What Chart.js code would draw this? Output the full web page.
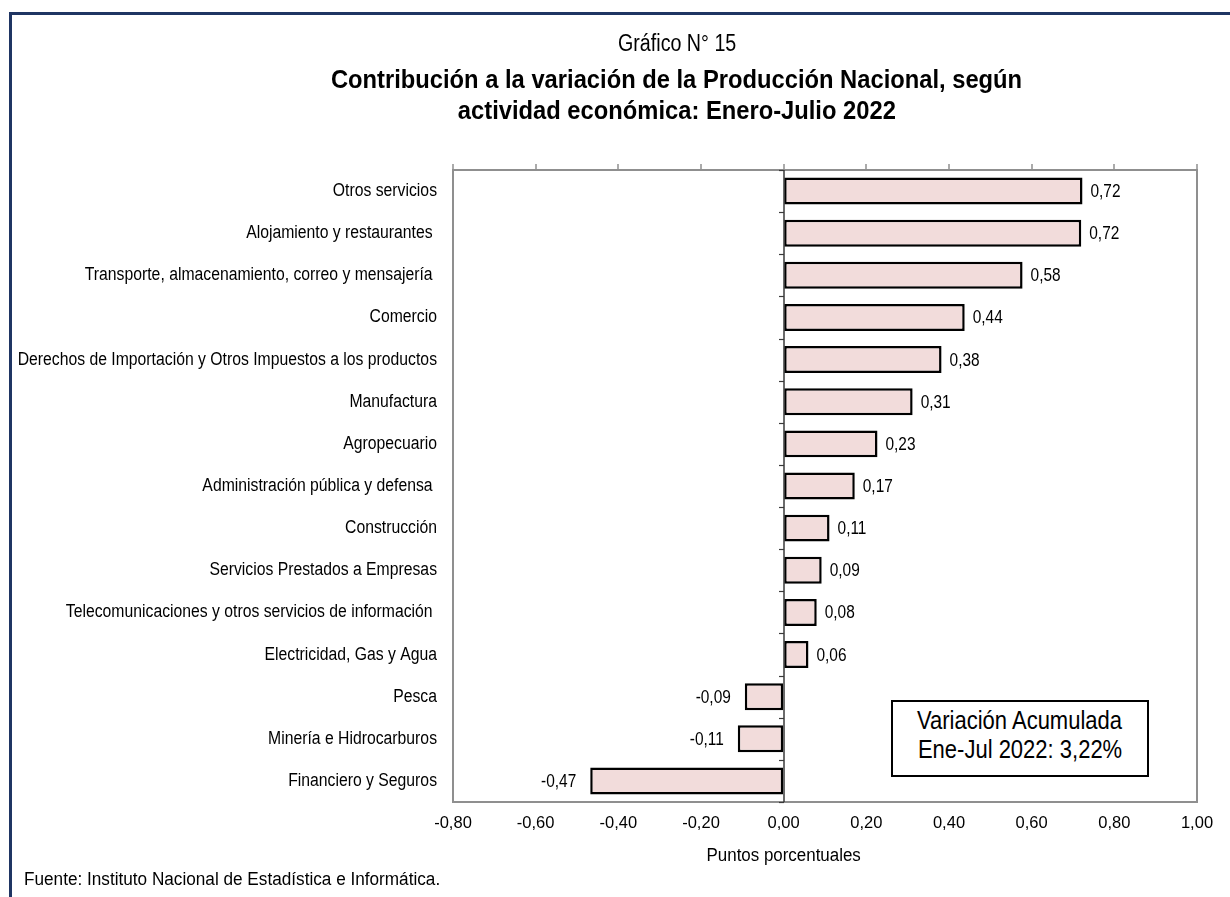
<!DOCTYPE html>
<html>
<head>
<meta charset="utf-8">
<script src="https://cdn.jsdelivr.net/npm/chart.js@4.4.1/dist/chart.umd.min.js"></script>
<style>
  html, body { margin: 0; padding: 0; background: #fff; overflow: hidden; }
  #wrap { position: relative; width: 1230px; height: 897px; }
  #frame { position: absolute; left: 9px; top: 12px; width: 1240px; height: 900px;
           border-left: 3px solid #1f3563; border-top: 3px solid #1f3563; box-sizing: border-box; }
  canvas { position: absolute; left: 0; top: 0; }
  .t { position: absolute; font-family: 'Liberation Sans', Arial, sans-serif; color: #000; white-space: nowrap; }
  .t span { display: inline-block; }
  #t1 { left: 277px; width: 800px; top: 30px; text-align: center; font-size: 23px; }
  #t1 span { transform: scaleX(0.855); transform-origin: center; }
  #t2 { left: 177px; width: 1000px; top: 64px; text-align: center; font-size: 26px; font-weight: bold; line-height: 31px; }
  #t2 span { transform: scaleX(0.913); transform-origin: center; }
  #note { left: 891px; top: 700px; width: 258px; height: 77px; border: 2px solid #000; box-sizing: border-box;
          background: #fff; text-align: center; font-size: 25px; line-height: 29px; padding-top: 4px; }
  #note span { transform: scaleX(0.88); transform-origin: center; }
  #src { left: 24px; top: 869px; font-size: 18px; }
  #src span { transform: scaleX(0.954); transform-origin: left center; }
</style>
</head>
<body>
<div id="wrap">
  <div id="frame"></div>
  <canvas id="c" width="1230" height="897"></canvas>
  <div class="t" id="t1"><span>Gráfico N° 15</span></div>
  <div class="t" id="t2"><span>Contribución a la variación de la Producción Nacional, según</span><br><span>actividad económica: Enero-Julio 2022</span></div>
  <div class="t" id="note"><span>Variación Acumulada</span><br><span>Ene-Jul 2022: 3,22%</span></div>
  <div class="t" id="src"><span>Fuente: Instituto Nacional de Estadística e Informática.</span></div>
</div>
<script>
const categories = [
  "Otros servicios",
  "Alojamiento y restaurantes ",
  "Transporte, almacenamiento, correo y mensajería ",
  "Comercio",
  "Derechos de Importación y Otros Impuestos a los productos",
  "Manufactura",
  "Agropecuario",
  "Administración pública y defensa ",
  "Construcción",
  "Servicios Prestados a Empresas",
  "Telecomunicaciones y otros servicios de información ",
  "Electricidad, Gas y Agua",
  "Pesca",
  "Minería e Hidrocarburos",
  "Financiero y Seguros"
];
const values = [0.723, 0.720, 0.578, 0.438, 0.382, 0.312, 0.227, 0.172, 0.111, 0.092, 0.080, 0.060, -0.094, -0.111, -0.468];
const xMin = -0.8, xMax = 1.0, xStep = 0.2;
const axisTitle = "Puntos porcentuales";

const FONT = "'Liberation Sans', Arial, sans-serif";
const fmt = v => v.toFixed(2).replace('.', ',');

function narrowText(ctx, text, x, y, k, align) {
  ctx.save();
  ctx.translate(x, y);
  ctx.scale(k, 1);
  ctx.textAlign = align;
  ctx.fillText(text, 0, 0);
  ctx.restore();
}

const framePlugin = {
  id: 'frame',
  beforeDraw(chart) {
    // condense the category labels horizontally, anchored at their right edge
    const s = chart.scales.y;
    if (!s._narrowPatched) {
      const orig = s.drawLabels.bind(s);
      s._computeLabelArea = function () { return undefined; };
      s.drawLabels = function (area) {
        const ctx = this.ctx;
        const ax = this.right - this.options.ticks.padding;
        ctx.save();
        ctx.translate(ax, 0);
        ctx.scale(0.875, 1);
        ctx.translate(-ax, 0);
        orig(area);
        ctx.restore();
      };
      s._narrowPatched = true;
    }
  },
  afterDatasetsDraw(chart) {
    const {ctx, chartArea: a, scales: {x, y}} = chart;
    ctx.save();
    // gray frame
    ctx.strokeStyle = '#8f8f8f';
    ctx.lineWidth = 2;
    ctx.strokeRect(a.left, a.top, a.right - a.left, a.bottom - a.top);
    // top tick marks
    ctx.lineWidth = 1.5;
    for (let v = xMin; v <= xMax + 1e-9; v += xStep) {
      const px = Math.round(x.getPixelForValue(v));
      ctx.beginPath(); ctx.moveTo(px, a.top); ctx.lineTo(px, a.top - 6); ctx.stroke();
    }
    // zero line with category boundary ticks
    const x0 = Math.round(x.getPixelForValue(0));
    ctx.strokeStyle = '#3a3a3a';
    ctx.lineWidth = 1.5;
    ctx.beginPath(); ctx.moveTo(x0, a.top); ctx.lineTo(x0, a.bottom); ctx.stroke();
    const n = categories.length;
    const h = (a.bottom - a.top) / n;
    ctx.lineWidth = 1.2;
    for (let i = 0; i <= n; i++) {
      const py = Math.round(a.top + i * h) + 0.5;
      ctx.beginPath(); ctx.moveTo(x0 - 5, py); ctx.lineTo(x0, py); ctx.stroke();
    }
    // value labels
    ctx.fillStyle = '#000';
    ctx.font = '18px ' + FONT;
    ctx.textBaseline = 'middle';
    const meta = chart.getDatasetMeta(0);
    meta.data.forEach((el, i) => {
      const v = values[i];
      if (v >= 0) narrowText(ctx, fmt(v), el.x + 8, el.y + 1, 0.857, 'left');
      else narrowText(ctx, fmt(v), el.x - 14, el.y + 1, 0.857, 'right');
    });
    // axis title centred on zero
    narrowText(ctx, axisTitle, x.getPixelForValue(0), 856, 0.94, 'center');
    ctx.restore();
  }
};

new Chart(document.getElementById('c'), {
  type: 'bar',
  data: {
    labels: categories,
    datasets: [{
      data: values,
      backgroundColor: '#f2dcdb',
      borderColor: '#000',
      borderWidth: 2.5,
      borderSkipped: false,
      barPercentage: 0.64,
      categoryPercentage: 1
    }]
  },
  options: {
    indexAxis: 'y',
    responsive: false,
    devicePixelRatio: 1,
    animation: false,
    layout: { padding: { top: 170, right: 33, bottom: 0, left: 0 } },
    plugins: { legend: { display: false }, tooltip: { enabled: false }, title: { display: false } },
    scales: {
      x: {
        min: xMin, max: xMax,
        afterFit(s) { s.height = 95; },
        grid: { display: true, drawOnChartArea: false, drawTicks: false },
        border: { display: false },
        ticks: { stepSize: xStep, color: '#000', padding: 12, font: { family: FONT, size: 16.5 },
                 callback: v => fmt(v) }
      },
      y: {
        afterFit(s) { s.width = 453; },
        grid: { display: true, drawOnChartArea: false, drawTicks: false },
        border: { display: false },
        ticks: { color: '#000', padding: 16, font: { family: FONT, size: 18 }, autoSkip: false }
      }
    }
  },
  plugins: [framePlugin]
});
</script>
</body>
</html>
